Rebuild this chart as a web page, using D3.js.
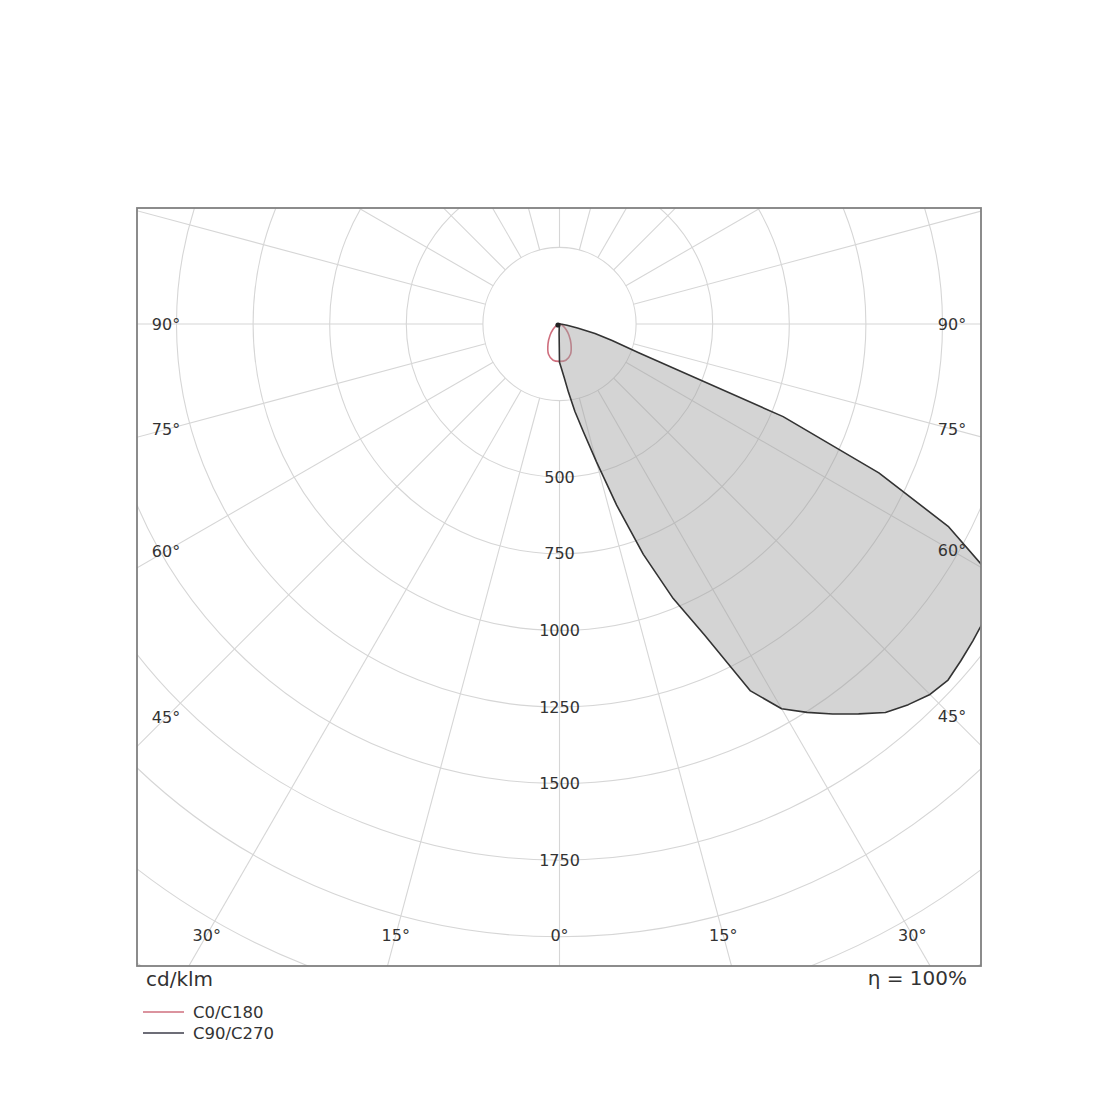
<!DOCTYPE html>
<html><head><meta charset="utf-8">
<script src="https://cdn.jsdelivr.net/npm/d3@7"></script>
<style>body{margin:0;background:#fff}</style>
</head><body>
<svg id="chart" width="1100" height="1100"></svg>
<script>
// ---- data (cd/klm), gamma measured from nadir ----
const gammaAngles = [0,2.5,5,7.5,10,12.5,15,17.5,20,22.5,25,27.5,30,32.5,35,37.5,40,42.5,45,47.5,50,52.5,55,57.5,60,62.5,65,67.5,70,72.5,75,77.5,80,82.5,85,87.5,90];
const c90Values  = [125,145,175,225,290,360,465,620,800,970,1120,1350,1450,1503,1554,1604,1655,1685,1710,1720,1710,1700,1690,1670,1610,1430,1150,790,275,180,120,60,25,12,8,5,4];
const c270Values = [125,30,8,5,4,4,3,3,3,3,3,3,3,3,3,3,3,3,3,3,3,3,3,3,3,3,3,3,3,3,3,3,3,3,3,3,3];
const c0Angles   = [0,10,20,30,40,50,60,70,80,90];
const c0Values   = [122,120,105,75,48,28,14,6,3,1];
const c180Values = [122,120,105,75,48,28,14,6,3,1];
const ringTicks  = [250,500,750,1000,1250,1500,1750,2000,2250,2500];
const ringLabels = [500,750,1000,1250,1500,1750];
const spokeAngles = [0,15,30,45,60,75,90,105,120,135,150,165,180,195,210,225,240,255,270,285,300,315,330,345];
const angleTicks = [-90,-75,-60,-45,-30,-15,0,15,30,45,60,75,90];
const legendItems = [{name:"C0/C180", color:"#cf6f7e"},{name:"C90/C270", color:"#3d3d4a"}];
const unitLabel = "cd/klm";
const etaLabel = "η = 100%";

// ---- layout ----
const frame = {x0:137, y0:208, x1:981, y1:966};
const cx = 559.5, cy = 324;
const r = d3.scaleLinear().domain([0, 2500]).range([0, 766]);
const rad = d => d * Math.PI / 180;
const FONT = "DejaVu Sans, Verdana, sans-serif";

const svg = d3.select("#chart");
svg.append("defs").append("clipPath").attr("id","clip")
  .append("rect").attr("x",frame.x0).attr("y",frame.y0)
  .attr("width",frame.x1-frame.x0).attr("height",frame.y1-frame.y0);

const g = svg.append("g").attr("clip-path","url(#clip)");
const center = g.append("g").attr("transform",`translate(${cx},${cy})`);

// rings
center.selectAll("circle.ring").data(ringTicks).join("circle")
  .attr("class","ring").attr("r", d => r(d))
  .attr("fill","none").attr("stroke","#d6d6d6").attr("stroke-width",1.1);

// spokes (start at first ring)
center.selectAll("line.spoke").data(spokeAngles).join("line")
  .attr("class","spoke")
  .attr("x1", d => r(250)*Math.sin(rad(d))).attr("y1", d => r(250)*Math.cos(rad(d)))
  .attr("x2", d => r(2800)*Math.sin(rad(d))).attr("y2", d => r(2800)*Math.cos(rad(d)))
  .attr("stroke","#d6d6d6").attr("stroke-width",1.1);

// C0/C180 curve (red)
const redPts = [];
c180Values.slice().reverse().forEach((v,i,arr)=>{ const a = c0Angles[arr.length-1-i]; redPts.push([Math.PI + rad(a), v]); });
c0Values.forEach((v,i)=>{ redPts.push([Math.PI - rad(c0Angles[i]), v]); });
const radial = d3.lineRadial().angle(d=>d[0]).radius(d=>r(d[1]));
center.append("path")
  .attr("d", radial.curve(d3.curveCatmullRomClosed)(redPts))
  .attr("fill","none").attr("stroke","#cf6f7e").attr("stroke-width",1.6);

// C90/C270 (filled)
const pts = [];
for (let i = gammaAngles.length-1; i >= 0; i--) pts.push([Math.PI + rad(gammaAngles[i]), c270Values[i]]);
for (let i = 0; i < gammaAngles.length; i++) pts.push([Math.PI - rad(gammaAngles[i]), c90Values[i]]);
const lin = d3.lineRadial().angle(d=>d[0]).radius(d=>r(d[1])).curve(d3.curveLinearClosed);
center.append("path").attr("d", lin(pts))
  .attr("fill","rgb(160,160,160)").attr("fill-opacity",0.45)
  .attr("stroke","#333").attr("stroke-width",1.6).attr("stroke-linejoin","round");
center.append("circle").attr("cx",-1.5).attr("cy",1).attr("r",2.6).attr("fill","#222");

// frame
svg.append("rect").attr("x",frame.x0).attr("y",frame.y0)
  .attr("width",frame.x1-frame.x0).attr("height",frame.y1-frame.y0)
  .attr("fill","none").attr("stroke","#808080").attr("stroke-width",1.8);

// ring labels
svg.selectAll("text.rl").data(ringLabels).join("text")
  .attr("class","rl").attr("x",cx).attr("y", d => cy + r(d))
  .attr("text-anchor","middle").attr("dominant-baseline","central")
  .attr("font-family",FONT).attr("font-size",16).attr("fill","#333")
  .text(d => d);

// angle labels
const inL = 166, inR = 952, inB = 935;
svg.selectAll("text.al").data(angleTicks).join("text")
  .attr("class","al")
  .each(function(a){
    const s = Math.sin(rad(a)), c = Math.cos(rad(a));
    let t = Infinity;
    if (Math.abs(s) > 1e-6) t = Math.min(t, (a > 0 ? inR - cx : cx - inL) / Math.abs(s));
    if (c > 1e-6) t = Math.min(t, (inB - cy) / c);
    d3.select(this).attr("x", cx + t*s).attr("y", cy + t*c);
  })
  .attr("text-anchor","middle").attr("dominant-baseline","central")
  .attr("font-family",FONT).attr("font-size",16).attr("fill","#333")
  .text(a => Math.abs(a) + "°");

// unit & efficiency
svg.append("text").attr("x",146).attr("y",986)
  .attr("font-family",FONT).attr("font-size",20).attr("fill","#333").text(unitLabel);
svg.append("text").attr("x",967).attr("y",985).attr("text-anchor","end")
  .attr("font-family",FONT).attr("font-size",20).attr("fill","#333").text(etaLabel);

// legend
const lg = svg.selectAll("g.lg").data(legendItems).join("g")
  .attr("class","lg").attr("transform",(d,i)=>`translate(143,${1012 + i*21})`);
lg.append("line").attr("x1",0).attr("x2",41).attr("y1",0).attr("y2",0)
  .attr("stroke",d=>d.color).attr("stroke-width",1.4);
lg.append("text").attr("x",50).attr("y",0).attr("dominant-baseline","central")
  .attr("font-family",FONT).attr("font-size",16.5).attr("fill","#333").text(d=>d.name);
</script>
</body></html>
